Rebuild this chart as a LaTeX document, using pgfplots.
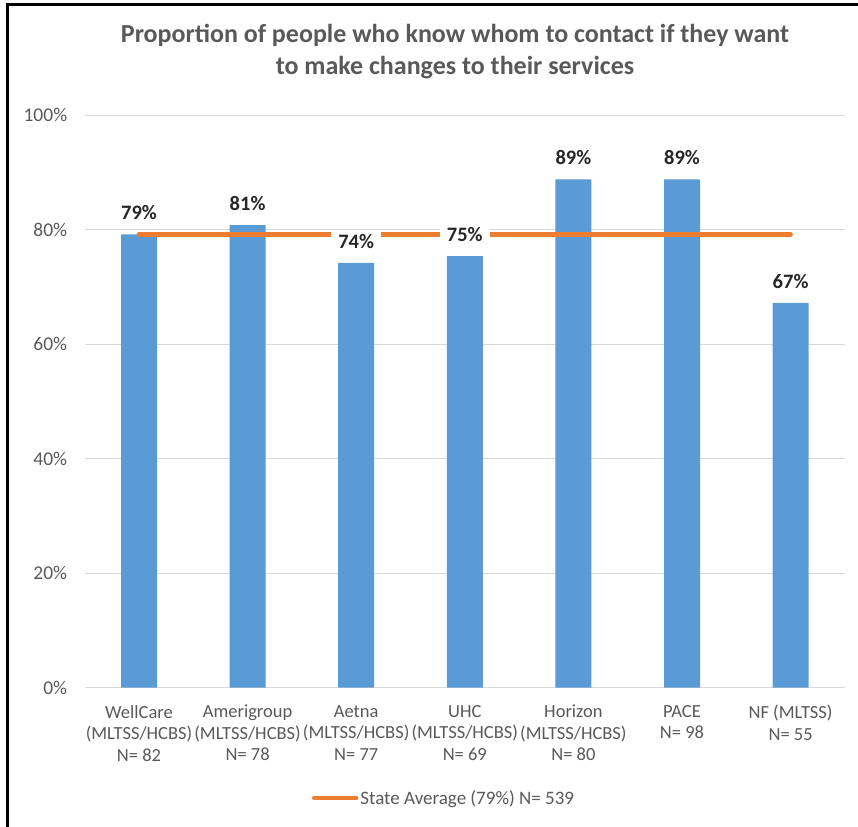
\documentclass[border=0pt]{standalone}
\usepackage{pgfplots}
\pgfplotsset{compat=1.18}
\usepackage{fontspec}
\setmainfont{Carlito}
\definecolor{barblue}{HTML}{5B9BD5}
\definecolor{avgorange}{HTML}{ED7D31}
\definecolor{gridgray}{HTML}{D9D9D9}
\definecolor{textgray}{HTML}{595959}
\definecolor{labelblack}{HTML}{262626}
\begin{document}
\begin{tikzpicture}[x=1bp,y=1bp]
\useasboundingbox (0,0) rectangle (858,827);
\draw[line width=3bp] (7.3,0) -- (7.3,822) -- (858,822);
\node[align=center, font=\fontsize{26bp}{32bp}\selectfont\bfseries, text=textgray] at (455,775) {Proportion of people who know whom to contact if they want\\to make changes to their services};
\begin{axis}[
  at={(84.7bp,139.3bp)}, anchor=south west,
  scale only axis, width=760.2bp, height=572.5bp,
  xmin=-0.5, xmax=6.5, ymin=0, ymax=100,
  axis line style={draw=none},
  major tick length=0pt,
  ytick={0,20,40,60,80,100},
  yticklabels={0\%,20\%,40\%,60\%,80\%,100\%},
  ymajorgrids, grid style={gridgray, line width=1.3bp},
  xtick={0,1,2,3,4,5,6},
  xticklabels={{WellCare\\(MLTSS/HCBS)\\N= 82},{Amerigroup\\(MLTSS/HCBS)\\N= 78},{Aetna\\(MLTSS/HCBS)\\N= 77},{UHC\\(MLTSS/HCBS)\\N= 69},{Horizon\\(MLTSS/HCBS)\\N= 80},{PACE\\N= 98},{NF (MLTSS)\\N= 55}},
  xticklabel style={align=center, font=\fontsize{18.5bp}{21.5bp}\selectfont, text=textgray, anchor=north, yshift=-14bp},
  yticklabel style={font=\fontsize{19.5bp}{22bp}\selectfont, text=textgray, xshift=-14bp},
  /pgf/number format/assume math mode=true,
  legend style={at={(axis description cs:0.4726,-0.1927)}, anchor=center, draw=none, fill=none, font=\fontsize{19bp}{22bp}\selectfont, text=textgray, legend cell align=left, inner sep=0pt},
  legend image code/.code={\draw[line width=4.5bp, avgorange] (0bp,0bp) -- (42bp,0bp);},
  clip=false,
]
\addplot[ybar, bar width=36bp, fill=barblue, draw=none, forget plot] coordinates {
  (0,79.2) (1,80.8) (2,74.2) (3,75.4) (4,88.8) (5,88.8) (6,67.2)
};
\addplot[avgorange, line width=4.5bp, line cap=round, mark=none] coordinates {
  (0,79.2) (6,79.2)
};
\addlegendentry{State Average (79\%) N= 539}
\addplot[draw=none, mark=none, forget plot,
  nodes near coords, point meta=explicit symbolic,
  every node near coord/.append style={anchor=center, yshift=21.5bp, fill=white, inner xsep=7bp, inner ysep=3bp, font=\fontsize{20.5bp}{24bp}\selectfont\bfseries, text=labelblack}
] coordinates {
  (0,79.2) [79\%] (1,80.8) [81\%] (2,74.2) [74\%] (3,75.4) [75\%] (4,88.8) [89\%] (5,88.8) [89\%] (6,67.2) [67\%]
};
\end{axis}
\end{tikzpicture}
\end{document}
